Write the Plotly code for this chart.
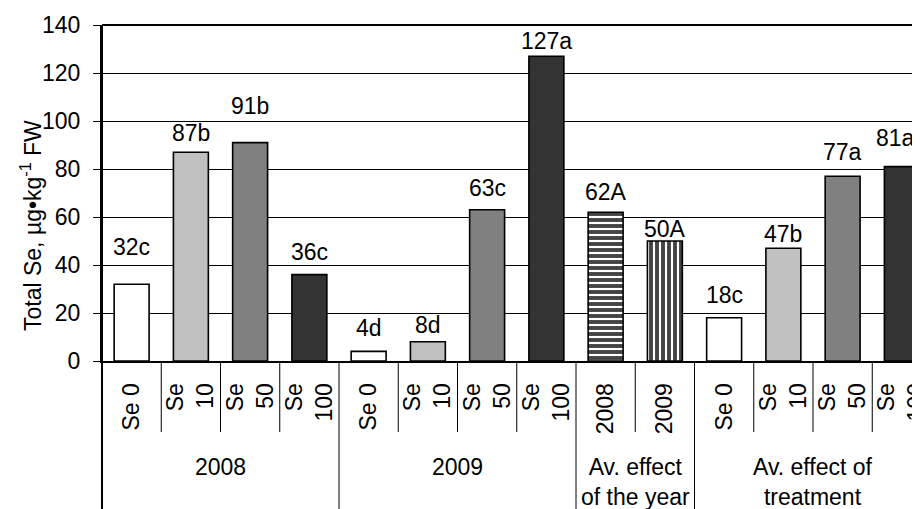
import plotly.graph_objects as go

# ---- data ----
tick_labels = ["Se 0", "Se<br>10", "Se<br>50", "Se<br>100",
               "Se 0", "Se<br>10", "Se<br>50", "Se<br>100",
               "2008", "2009",
               "Se 0", "Se<br>10", "Se<br>50", "Se<br>100"]
values = [32, 87, 91, 36, 4, 8, 63, 127, 62, 50, 18, 47, 77, 81]
letters = ["c", "b", "b", "c", "d", "d", "c", "a", "A", "A", "c", "b", "a", "a"]
groups = ["2008", "2009", "Av. effect<br>of the year", "Av. effect of<br>treatment"]
group_sizes = [4, 4, 2, 4]

# ---- styles ----
fill_colors = ["#ffffff", "#c0c0c0", "#808080", "#333333"] * 2 + ["#ffffff", "#ffffff"] + ["#ffffff", "#c0c0c0", "#808080", "#333333"]
pattern_shapes = [""] * 8 + ["-", "|"] + [""] * 4
label_shift = [37, 19, 37, 23, 23, 17, 22, 15, 20, 12, 23, 14, 24, 29]  # px above bar top (text centre)
label_xshift = [0] * 13 + [-6]

FONT = "Liberation Sans, Arial, sans-serif"
FS = 23
x = list(range(len(values)))

# page body has an 8px margin: figure is sized so the plot lands where the reference has it
W, H = 912, 501
L, T, B = 94, 17, 148
plot_w = W - L
plot_h = H - T - B
cat_w = 59.25

fig = go.Figure()
fig.add_trace(go.Bar(
    x=x, y=values, width=0.59,
    marker=dict(color=fill_colors,
                line=dict(color="black", width=1.6),
                pattern=dict(shape=pattern_shapes, fgcolor="black", bgcolor="white",
                             fgopacity=1, size=6, solidity=0.65)),
    showlegend=False, hoverinfo="skip",
))

annotations = []
for i, (v, l) in enumerate(zip(values, letters)):
    annotations.append(dict(x=i, y=v, xref="x", yref="y", text=f"{v}{l}", showarrow=False,
                            yanchor="middle", yshift=label_shift[i], xshift=label_xshift[i],
                            font=dict(family=FONT, size=FS, color="black")))

bottom_paper = -float(B) / plot_h
shapes = []
start = 0
for g, n in zip(groups, group_sizes):
    centre = start + (n - 1) / 2
    annotations.append(dict(x=centre, y=-91.0 / plot_h, xref="x", yref="paper", text=g,
                            showarrow=False, yanchor="top", xanchor="center",
                            font=dict(family=FONT, size=FS, color="black")))
    shapes.append(dict(type="line", xref="x", yref="paper", x0=start - 0.5, x1=start - 0.5,
                       y0=0, y1=bottom_paper, line=dict(color="black", width=1)))
    for k in range(1, n):
        xb = start + k - 0.5
        shapes.append(dict(type="line", xref="x", yref="paper", x0=xb, x1=xb,
                           y0=0, y1=-71.0 / plot_h, line=dict(color="black", width=1)))
    start += n
shapes.append(dict(type="line", xref="x", yref="paper", x0=start - 0.5, x1=start - 0.5,
                   y0=0, y1=bottom_paper, line=dict(color="black", width=1)))
shapes.append(dict(type="line", xref="paper", yref="paper", x0=0, x1=0, y0=1, y1=bottom_paper,
                   line=dict(color="black", width=2)))
shapes.append(dict(type="line", xref="paper", yref="paper", x0=0, x1=1, y0=1, y1=1,
                   line=dict(color="black", width=2)))

annotations.append(dict(x=-71.0 / plot_w, y=135.0 / plot_h, xref="paper", yref="paper",
                        text="Total Se, µg•kg<sup>-1</sup> FW", textangle=-90, showarrow=False,
                        xanchor="center", yanchor="middle",
                        font=dict(family=FONT, size=FS, color="black")))

fig.update_layout(
    width=W, height=H,
    margin=dict(l=L, r=0, t=T, b=B, pad=0, autoexpand=False),
    paper_bgcolor="white", plot_bgcolor="white",
    font=dict(family=FONT, size=FS, color="black"),
    annotations=annotations, shapes=shapes,
)
fig.update_xaxes(
    range=[-0.5, -0.5 + plot_w / cat_w], automargin=False,
    tickmode="array", tickvals=x, ticktext=tick_labels, tickangle=-90,
    ticks="", showline=True, linecolor="black", linewidth=2,
    showgrid=False, zeroline=False, ticklabelstandoff=11,
    ticklabeloverflow="allow",
    tickfont=dict(family=FONT, size=FS, color="black"),
)
fig.update_yaxes(
    range=[0, 140], dtick=20, tick0=0, automargin=False,
    ticks="outside", ticklen=7, tickcolor="black", tickwidth=1,
    showline=True, linecolor="black", linewidth=2,
    showgrid=True, gridcolor="black", gridwidth=1, zeroline=False,
    ticklabelstandoff=8,
    tickfont=dict(family=FONT, size=FS, color="black"),
)

fig.write_html("out.html")
